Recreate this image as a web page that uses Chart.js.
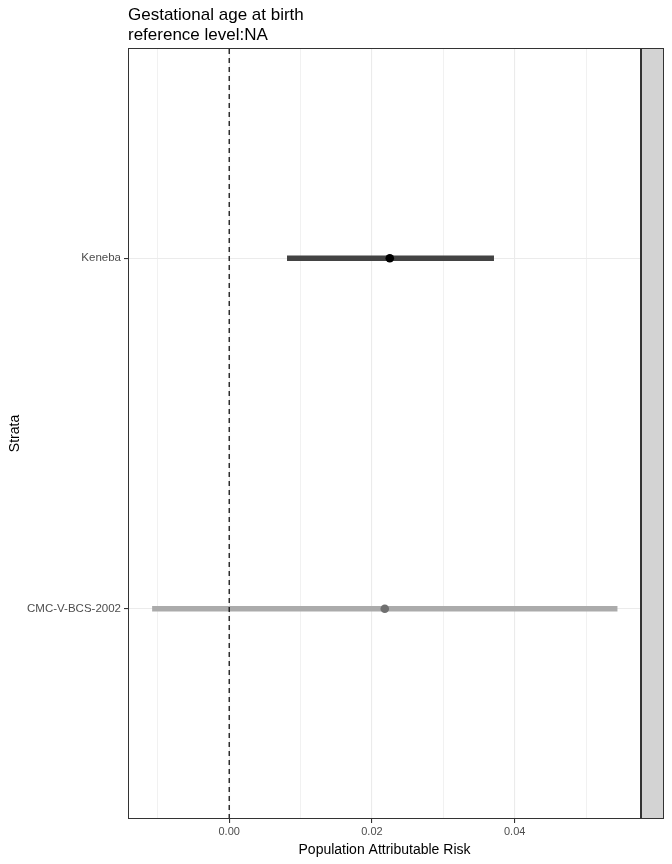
<!DOCTYPE html>
<html><head><meta charset="utf-8">
<script src="https://cdn.jsdelivr.net/npm/chart.js@4"></script>
<style>html,body{margin:0;padding:0;background:#fff}#wrap{width:672px;height:864px}</style>
</head><body><div id="wrap"><canvas id="c" width="672" height="864"></canvas></div>
<script>
const strata = ['CMC-V-BCS-2002', 'Keneba'];
const estimate = [0.0218, 0.0225];
const lowerCI = [-0.0108, 0.0081];
const upperCI = [0.0544, 0.0371];
const lineColors = ['#ababab', '#434343'];
const pointColors = ['#707070', '#000000'];
const xTickLabels = ['0.00', '0.02', '0.04'];
const titleLines = ['Gestational age at birth', 'reference level:NA'];

const datasets = [];
strata.forEach((s, i) => {
  datasets.push({
    type: 'scatter', showLine: true, order: 3,
    data: [{x: lowerCI[i], y: i + 1}, {x: upperCI[i], y: i + 1}],
    borderColor: lineColors[i], borderWidth: 5.5, pointRadius: 0, borderCapStyle: 'butt'
  });
});
datasets.push({
  type: 'scatter', showLine: true, order: 2,
  data: [{x: 0, y: 0.4}, {x: 0, y: 2.6}],
  borderColor: '#000', borderWidth: 1.2, borderDash: [5, 4], pointRadius: 0
});
strata.forEach((s, i) => {
  datasets.push({
    type: 'scatter', order: 1,
    data: [{x: estimate[i], y: i + 1}],
    backgroundColor: pointColors[i], borderColor: pointColors[i], pointRadius: 4.3, borderWidth: 0
  });
});

const deco = {
  id: 'deco',
  afterDraw(chart) {
    const ctx = chart.ctx, a = chart.chartArea;
    ctx.save();
    ctx.strokeStyle = '#333'; ctx.lineWidth = 1;
    ctx.strokeRect(a.left + 0.5, a.top + 0.5, a.right - a.left - 1, a.bottom - a.top - 1);
    ctx.fillStyle = '#d3d3d3';
    ctx.fillRect(a.right, a.top, 23, a.bottom - a.top);
    ctx.strokeStyle = '#333';
    ctx.strokeRect(a.right + 0.5, a.top + 0.5, 22, a.bottom - a.top - 1);
    ctx.fillStyle = '#000';
    ctx.font = '17px "Liberation Sans", Arial, sans-serif';
    ctx.textBaseline = 'alphabetic'; ctx.textAlign = 'left';
    ctx.fillText(titleLines[0], 128, 20);
    ctx.fillText(titleLines[1], 128, 40);
    ctx.restore();
  }
};

new Chart(document.getElementById('c'), {
  type: 'scatter',
  data: {datasets},
  options: {
    responsive: false, animation: false, devicePixelRatio: 1,
    layout: {padding: {top: 48, right: 31, left: 7, bottom: 5}},
    plugins: {legend: {display: false}, tooltip: {enabled: false}, title: {display: false}},
    scales: {
      x: {
        type: 'linear', min: -0.01418, max: 0.0577,
        afterBuildTicks: s => { s.ticks = [-0.01, 0, 0.01, 0.02, 0.03, 0.04, 0.05].map(v => ({value: v})); },
        afterFit: s => { s.height = 40; },
        border: {display: false},
        grid: {
          color: '#ebebeb',
          lineWidth: c => (Math.round(c.tick.value * 100) % 2 === 0 ? 1.1 : 0.7),
          tickColor: c => (Math.round(c.tick.value * 100) % 2 === 0 ? '#333' : 'rgba(0,0,0,0)'),
          tickLength: 4, drawTicks: true
        },
        ticks: {
          autoSkip: false, maxRotation: 0, padding: 2, color: '#4d4d4d',
          font: {size: 11, family: '"Liberation Sans", Arial, sans-serif'},
          callback: v => { const r = Math.round(v * 100); return r % 2 === 0 ? xTickLabels[r / 2] : ''; }
        },
        title: {display: true, text: 'Population Attributable Risk', color: '#000',
          font: {size: 14, family: '"Liberation Sans", Arial, sans-serif'}, padding: {top: 0, bottom: 0}}
      },
      y: {
        type: 'linear', min: 0.4, max: 2.6,
        afterBuildTicks: s => { s.ticks = [{value: 1}, {value: 2}]; },
        afterFit: s => { s.width = 121; },
        border: {display: false},
        grid: {color: '#ebebeb', lineWidth: 1.1, tickColor: '#333', tickLength: 4},
        ticks: {
          autoSkip: false, padding: 3, color: '#4d4d4d',
          font: {size: 11.5, family: '"Liberation Sans", Arial, sans-serif'},
          callback: v => strata[v - 1]
        },
        title: {display: true, text: 'Strata', color: '#000',
          font: {size: 14, family: '"Liberation Sans", Arial, sans-serif'}, padding: {top: 0, bottom: 0}}
      }
    }
  },
  plugins: [deco]
});
</script></body></html>
